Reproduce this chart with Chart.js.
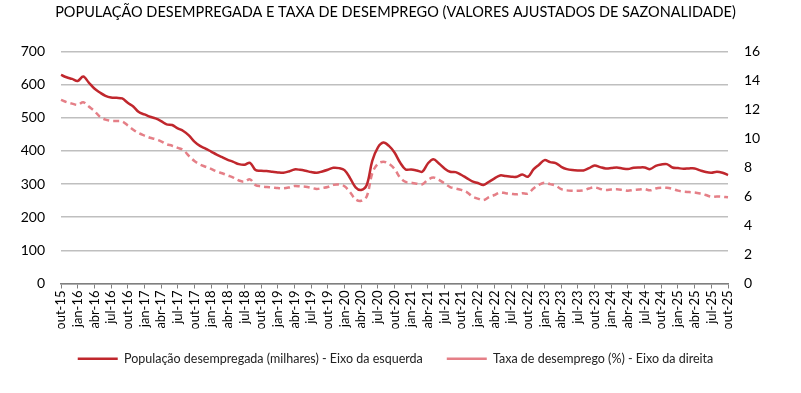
<!DOCTYPE html>
<html>
<head>
<meta charset="utf-8">
<script src="https://cdn.jsdelivr.net/npm/chart.js@4.4.1/dist/chart.umd.min.js"></script>
<style>
  html, body { margin: 0; padding: 0; background: #fff; }
  #wrap { width: 801px; height: 393px; position: relative; }
</style>
</head>
<body>
<div id="wrap"><canvas id="lineChart"></canvas></div>
<script>
// monthly series, out-15 .. out-25
const monthNames = ['jan', 'fev', 'mar', 'abr', 'mai', 'jun', 'jul', 'ago', 'set', 'out', 'nov', 'dez'];
const startYear = 2015;
const startMonth = 9; // out

// população desempregada (milhares) - eixo da esquerda
const populacao = [
    629, 622, 617, 611, 624, 606, 588, 576, 566, 561, 560, 558,
    545, 534, 517, 510, 503, 498, 490, 480, 478, 468, 460, 447,
    428, 415, 407, 398, 389, 381, 373, 367, 360, 358, 364, 342,
    340, 339, 337, 335, 334, 338, 344, 343, 340, 336, 334, 338,
    343, 349, 348, 342, 318, 290, 282, 297, 370, 410, 425, 415,
    395, 365, 344, 344, 341, 337, 362, 375, 362, 347, 337, 336,
    328, 318, 308, 303, 297, 307, 317, 326, 324, 322, 322, 329,
    322, 344, 358, 372, 366, 363, 352, 345, 342, 341, 341, 348,
    356, 351, 347, 348, 350, 347, 345, 349, 350, 350, 345, 355,
    359, 360, 350, 348, 346, 347, 347, 341, 336, 334, 337, 334,
    327
];

// taxa de desemprego (%) - eixo da direita
const taxa = [
    12.66, 12.5, 12.4, 12.32, 12.5, 12.2, 11.9, 11.5, 11.3, 11.21, 11.2, 11.17,
    10.9, 10.6, 10.36, 10.2, 10.05, 9.95, 9.8, 9.6, 9.5, 9.35, 9.2, 8.8,
    8.45, 8.2, 8.05, 7.9, 7.72, 7.6, 7.45, 7.3, 7.1, 7.02, 7.18, 6.78,
    6.7, 6.65, 6.62, 6.58, 6.56, 6.62, 6.72, 6.7, 6.67, 6.6, 6.52, 6.58,
    6.65, 6.8, 6.82, 6.7, 6.3, 5.8, 5.7, 6.0, 7.6, 8.25, 8.4, 8.25,
    7.9, 7.3, 7.0, 6.95, 6.88, 6.84, 7.15, 7.3, 7.15, 6.9, 6.65, 6.55,
    6.45, 6.3, 6.0, 5.85, 5.75, 5.95, 6.1, 6.28, 6.22, 6.18, 6.15, 6.22,
    6.2, 6.55, 6.8, 6.95, 6.85, 6.75, 6.5, 6.42, 6.4, 6.4, 6.42, 6.55,
    6.63, 6.52, 6.45, 6.48, 6.49, 6.45, 6.4, 6.45, 6.48, 6.51, 6.42, 6.55,
    6.6, 6.6, 6.52, 6.4, 6.33, 6.3, 6.27, 6.2, 6.1, 5.98, 6.0, 5.98,
    5.94
];

let labels = [];
for (let i = 0; i < populacao.length; i++) {
    let m = (startMonth + i) % 12;
    let y = startYear + Math.floor((startMonth + i) / 12);
    labels.push(monthNames[m] + '-' + String(y).slice(2));
}

const FONT = 'Lato, "Open Sans", sans-serif';

const ctx = document.getElementById("lineChart");
let chart = new Chart(ctx, {
    type: 'line',
    data: {
        labels: labels,
        datasets: [{
            label: 'População desempregada (milhares) - Eixo da esquerda',
            data: populacao,
            yAxisID: 'y',
            borderColor: '#c0272d',
            backgroundColor: '#c0272d',
            borderWidth: 2.5,
            pointRadius: 0,
            tension: 0.35
        }, {
            label: 'Taxa de desemprego (%) - Eixo da direita',
            data: taxa,
            yAxisID: 'y1',
            borderColor: '#e57f87',
            backgroundColor: '#e57f87',
            borderWidth: 2.5,
            borderDash: [6, 4],
            pointRadius: 0,
            tension: 0.35
        }]
    },
    options: {
        responsive: true,
        maintainAspectRatio: false,
        animation: false,
        layout: {
            padding: { left: 13, right: 23, top: 0, bottom: 18 }
        },
        plugins: {
            title: {
                display: true,
                text: 'POPULAÇÃO DESEMPREGADA E TAXA DE DESEMPREGO (VALORES AJUSTADOS DE SAZONALIDADE)',
                color: '#000',
                font: { family: FONT, size: 14.5, weight: 'normal' },
                padding: { top: 4, bottom: 30 }
            },
            legend: {
                position: 'bottom',
                labels: {
                    usePointStyle: true,
                    pointStyle: 'line',
                    pointStyleWidth: 40,
                    color: '#222',
                    padding: 24,
                    font: { family: FONT, size: 12.5 }
                }
            },
            tooltip: { enabled: false }
        },
        scales: {
            x: {
                grid: {
                    drawOnChartArea: false,
                    drawTicks: true,
                    tickLength: 5,
                    color: '#7f7f7f'
                },
                border: { color: '#7f7f7f', width: 1.5 },
                ticks: {
                    autoSkip: false,
                    minRotation: 90,
                    maxRotation: 90,
                    padding: 2,
                    color: '#000',
                    font: { family: FONT, size: 13 },
                    callback: function(val, i) {
                        return i % 3 === 0 ? labels[i] : null;
                    }
                },
                afterFit: function(s) { s.height = 45; }
            },
            y: {
                position: 'left',
                min: 0,
                max: 700,
                ticks: {
                    stepSize: 100,
                    padding: 16,
                    color: '#000',
                    font: { family: FONT, size: 14 }
                },
                grid: { color: '#bfbfbf', lineWidth: 1.5, drawTicks: false },
                border: { display: false },
                afterFit: function(s) { s.width = 48; }
            },
            y1: {
                position: 'right',
                min: 0,
                max: 16,
                ticks: {
                    stepSize: 2,
                    padding: 16,
                    color: '#000',
                    font: { family: FONT, size: 14 }
                },
                grid: { display: false, drawTicks: false },
                border: { display: false },
                afterFit: function(s) { s.width = 50; }
            }
        }
    }
});
</script>
</body>
</html>
